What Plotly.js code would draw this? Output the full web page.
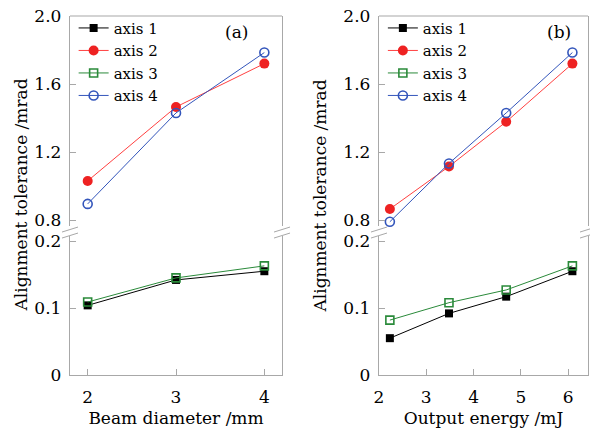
<!DOCTYPE html>
<html><head><meta charset="utf-8">
<script src="https://cdn.plot.ly/plotly-3.0.1.min.js"></script>
<style>html,body{margin:0;padding:0;background:#fff}#chart{width:590px;height:428px}</style>
</head><body><div id="chart"></div>
<script>
// ---- data ----
const seriesNames = ["axis 1", "axis 2", "axis 3", "axis 4"];
const beamDiameter = [2, 3, 4];
const aAxis1 = [0.104, 0.142, 0.155];
const aAxis2 = [1.03, 1.465, 1.72];
const aAxis3 = [0.109, 0.145, 0.163];
const aAxis4 = [0.895, 1.43, 1.785];
const outputEnergy = [2.23, 3.48, 4.69, 6.09];
const bAxis1 = [0.055, 0.092, 0.117, 0.155];
const bAxis2 = [0.865, 1.115, 1.378, 1.72];
const bAxis3 = [0.082, 0.108, 0.127, 0.163];
const bAxis4 = [0.79, 1.133, 1.43, 1.785];
const upperTicks = [0.8, 1.2, 1.6, 2.0];
const lowerTicks = [0, 0.1, 0.2];

// ---- styles ----
const FONT = "DejaVu Serif, serif";
const styles = [
  {line: "#000000", marker: {symbol: "square", size: 8, color: "#000000"}},
  {line: "#ff4040", marker: {symbol: "circle", size: 10, color: "#ee2222"}},
  {line: "#2a8a3a", marker: {symbol: "square-open", size: 8, color: "#2a8a3a", line: {width: 1.6}}},
  {line: "#3355bb", marker: {symbol: "circle-open", size: 9, color: "#3355bb", line: {width: 1.6}}}
];
function tr(i, x, y, xa, ya, legend) {
  return {x: x, y: y, xaxis: xa, yaxis: ya, name: seriesNames[i], type: "scatter",
    mode: "lines+markers", line: {color: styles[i].line, width: 1}, marker: styles[i].marker,
    legend: legend, cliponaxis: false};
}
const data = [
  tr(0, beamDiameter, aAxis1, "x", "y", "legend"),
  tr(1, beamDiameter, aAxis2, "x", "y2", "legend"),
  tr(2, beamDiameter, aAxis3, "x", "y", "legend"),
  tr(3, beamDiameter, aAxis4, "x", "y2", "legend"),
  tr(0, outputEnergy, bAxis1, "x2", "y3", "legend2"),
  tr(1, outputEnergy, bAxis2, "x2", "y4", "legend2"),
  tr(2, outputEnergy, bAxis3, "x2", "y3", "legend2"),
  tr(3, outputEnergy, bAxis4, "x2", "y4", "legend2")
];

const AX = "#a8a8a8";
const tickFont = {family: FONT, size: 17, color: "#000"};
const titleFont = {family: FONT, size: 17, color: "#000"};
function xaxis(domain, range, dtick, anchor, title) {
  return {domain: domain, range: range, anchor: anchor, dtick: dtick, tick0: 0,
    showline: true, linecolor: AX, linewidth: 1.2, ticks: "inside", ticklen: 6, tickcolor: AX,
    showgrid: false, zeroline: false, tickfont: tickFont, ticklabelstandoff: 6,
    title: {text: title, font: titleFont, standoff: 7}};
}
function yaxis(domain, range, vals, anchor) {
  return {domain: domain, range: range, anchor: anchor, tickvals: vals,
    ticktext: vals.map(v => v === 0 ? "0" : v.toFixed(1)),
    showline: true, mirror: true, linecolor: AX, linewidth: 1.2, ticks: "inside", ticklen: 6,
    tickcolor: AX, showgrid: false, zeroline: false, tickfont: tickFont, ticklabelstandoff: 4};
}
const UP = [0.415, 1], LO = [0, 0.387];
const gapY = 0.401;
const xdomA = [0, 0.4093], xdomB = [0.5965, 1.0];

function breakMarks(xref) {
  const out = [];
  [0, 1].forEach(side => {
    [[-7, -2], [-1, 4]].forEach(([y0, y1]) => {
      out.push({type: "line", xref: xref, yref: "paper", xsizemode: "pixel", ysizemode: "pixel",
        xanchor: side, yanchor: gapY, x0: -8, x1: 8, y0: y0, y1: y1,
        line: {color: AX, width: 1}});
    });
  });
  return out;
}
const shapes = [
  {type: "line", xref: "x domain", yref: "y2 domain", x0: 0, x1: 1, y0: 1, y1: 1, line: {color: AX, width: 1.2}},
  {type: "line", xref: "x2 domain", yref: "y4 domain", x0: 0, x1: 1, y0: 1, y1: 1, line: {color: AX, width: 1.2}},
  ...breakMarks("x domain"), ...breakMarks("x2 domain")
];

const legendBase = {bgcolor: "rgba(0,0,0,0)", borderwidth: 0, font: {family: FONT, size: 15, color: "#000"},
  xanchor: "left", yanchor: "top", y: 1.012, tracegroupgap: 0, itemwidth: 30};

const layout = {
  width: 590, height: 428, margin: {l: 70, r: 2, t: 16, b: 53},
  paper_bgcolor: "#fff", plot_bgcolor: "#fff", showlegend: true,
  xaxis: xaxis(xdomA, [1.8, 4.2], 1, "y", "Beam diameter /mm"),
  xaxis2: xaxis(xdomB, [2, 6.42], 1, "y3", "Output energy /mJ"),
  yaxis: yaxis(LO, [0, 0.2075], lowerTicks, "x"),
  yaxis2: yaxis(UP, [0.765, 2.0], upperTicks, "x"),
  yaxis3: yaxis(LO, [0, 0.2075], lowerTicks, "x2"),
  yaxis4: yaxis(UP, [0.765, 2.0], upperTicks, "x2"),
  legend: Object.assign({}, legendBase, {x: 0.007}),
  legend2: Object.assign({}, legendBase, {x: 0.604}),
  shapes: shapes,
  annotations: [
    {xref: "x domain", yref: "y2 domain", x: 0.85, y: 0.98, text: "(a)", showarrow: false,
      font: {family: FONT, size: 17, color: "#000"}},
    {xref: "x2 domain", yref: "y4 domain", x: 0.93, y: 0.98, text: "(b)", showarrow: false,
      font: {family: FONT, size: 17, color: "#000"}},
    {xref: "paper", yref: "paper", x: -0.0965, y: 0.5, text: "Alignment tolerance /mrad", textangle: -90,
      showarrow: false, xanchor: "center", yanchor: "middle", font: titleFont},
    {xref: "paper", yref: "paper", x: 0.4826, y: 0.5, text: "Alignment tolerance /mrad", textangle: -90,
      showarrow: false, xanchor: "center", yanchor: "middle", font: titleFont}
  ]
};
Plotly.newPlot("chart", data, layout, {displayModeBar: false, staticPlot: true});
</script></body></html>
